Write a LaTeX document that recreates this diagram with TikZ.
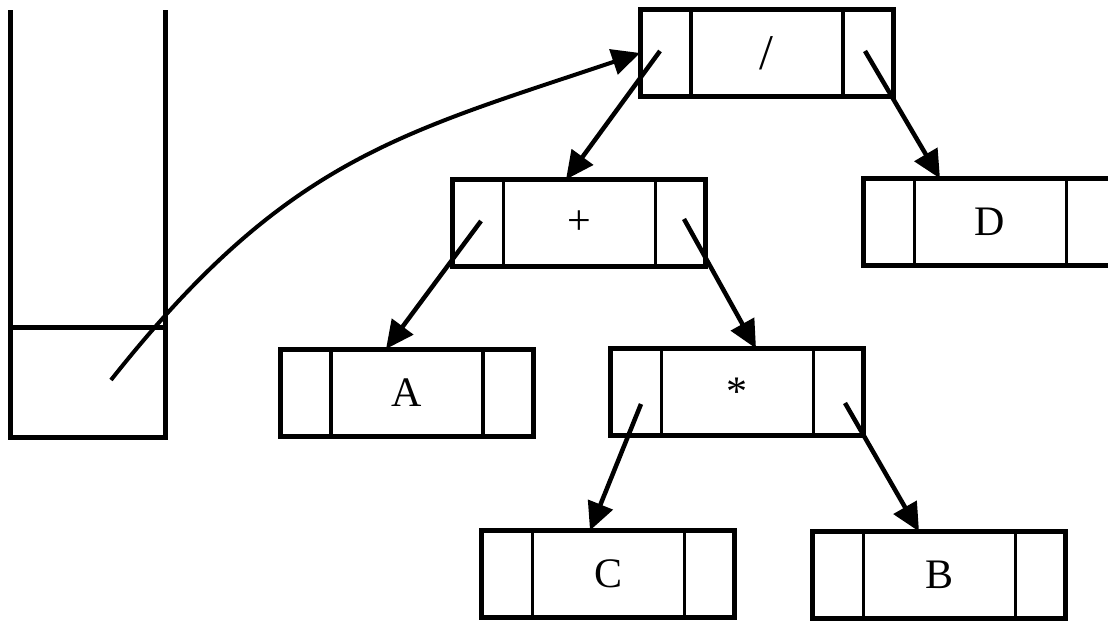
\documentclass[tikz,border=0pt]{standalone}
\usepackage{fontspec}
\setmainfont{Liberation Serif}
\usetikzlibrary{arrows.meta}
\begin{document}
\begin{tikzpicture}[x=1pt,y=-1pt,
  cellbox/.style={draw, line width=5pt, minimum width=253pt, minimum height=87pt,
    inner sep=0pt, outer sep=0pt, anchor=center, font=\fontsize{42}{42}\selectfont},
  divider/.style={line width=3.6pt},
  ptr/.style={line width=4.5pt, -{Triangle[length=28pt,width=26pt]}},
  wall/.style={line width=5pt}
]
\clip (0,0) rectangle (1108,621);
\fill[white] (0,0) rectangle (1108,621);

% stack
\draw[wall] (10,10) -- (10,437) -- (165,437) -- (165,10);
\draw[wall] (10,327) -- (165,327);

% list nodes
\node[cellbox] (slash) at (766.5,53) {\fontsize{50}{50}\selectfont /};
\node[cellbox] (plus)  at (579,223) {+};
\node[cellbox] (D)     at (990,222) {D};
\node[cellbox] (A)     at (406.5,392.5) {A};
\node[cellbox] (star)  at (737,392) {\raisebox{-3pt}{*}};
\node[cellbox] (C)     at (608,574) {C};
\node[cellbox] (B)     at (939,575) {B};

\foreach \n in {slash,plus,D,A,star,C,B}{
  \draw[divider] ([xshift=51pt]\n.north west) -- ([xshift=51pt]\n.south west);
  \draw[divider] ([xshift=-50pt]\n.north east) -- ([xshift=-50pt]\n.south east);
}

% pointer starts
\coordinate (top) at (111,380);
\coordinate (sL) at (660,51);
\coordinate (sR) at (865,51);
\coordinate (pL) at (481,221);
\coordinate (pR) at (684,219);
\coordinate (tL) at (641,404);
\coordinate (tR) at (845,403);

\draw[ptr] (sL) -- ([xshift=-13pt]plus.north);
\draw[ptr] (sR) -- ([xshift=-50pt]D.north);
\draw[ptr] (pL) -- ([xshift=-20.5pt]A.north);
\draw[ptr] (pR) -- ([xshift=19pt]star.north);
\draw[ptr] (tL) -- ([xshift=-18pt]C.north);
\draw[ptr] (tR) -- ([xshift=-20pt]B.north);

\draw[ptr, line width=4pt] (top) .. controls (286,159) and (399,134) .. (slash.west);
\end{tikzpicture}
\end{document}
